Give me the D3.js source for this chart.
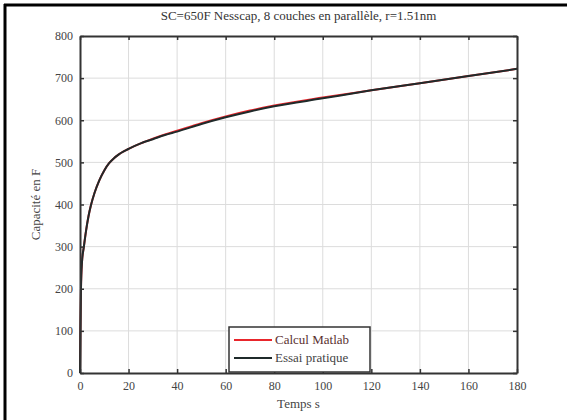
<!DOCTYPE html>
<html><head><meta charset="utf-8">
<script src="https://cdn.jsdelivr.net/npm/d3@7"></script>
<style>body{margin:0;background:#fff}svg{display:block}</style>
</head><body><svg id="c" width="567" height="420"></svg>
<script>
const title = "SC=650F Nesscap, 8 couches en parallèle, r=1.51nm";
const xLabel = "Temps s";
const yLabel = "Capacité en F";
const xTicks = [0,20,40,60,80,100,120,140,160,180];
const yTicks = [0,100,200,300,400,500,600,700,800];
const seriesNames = ["Calcul Matlab","Essai pratique"];
const timeS  = [0,0.15,0.4,0.8,1.6,2.5,3.5,4.5,6,8,10,12,14,16,18,20,25,30,35,40,50,60,70,80,100,120,140,160,180];
const calcul = [0,100,200,262,300,338,372,398,428,458,481,498,510,519,526,532,545,556,566,575,593,609,623,635,654,671,688,705,722];
const essai  = [0,100,200,262,300,338,372,398,428,458,481,498,510,519,526,532,545,555,565,573,591,607,621,633,652,671,688,705,722];

const FONT = "'Liberation Serif','DejaVu Serif','Times New Roman',serif";
const svg = d3.select("#c").attr("font-family",FONT);
const L=80,R=517,T=36,B=373;
const x = d3.scaleLinear().domain([0,180]).range([L,R]);
const y = d3.scaleLinear().domain([0,800]).range([B,T]);

// outer frame (left & top)
svg.append("line").attr("x1",5).attr("x2",5).attr("y1",4).attr("y2",420).attr("stroke","#000").attr("stroke-width",3);
svg.append("line").attr("x1",4).attr("x2",567).attr("y1",5).attr("y2",5).attr("stroke","#000").attr("stroke-width",3);

// grid
svg.append("g").selectAll("line").data(xTicks.slice(1,-1)).join("line")
  .attr("x1",d=>x(d)).attr("x2",d=>x(d)).attr("y1",T).attr("y2",B).attr("stroke","#dcdcdc").attr("stroke-width",1);
svg.append("g").selectAll("line").data(yTicks.slice(1,-1)).join("line")
  .attr("y1",d=>y(d)).attr("y2",d=>y(d)).attr("x1",L).attr("x2",R).attr("stroke","#dcdcdc").attr("stroke-width",1);

// lines
const line = d3.line().x((d,i)=>x(timeS[i])).y(d=>y(d)).curve(d3.curveMonotoneX);
svg.append("path").attr("d",line(calcul)).attr("fill","none").attr("stroke","#e8262c").attr("stroke-width",2);
svg.append("path").attr("d",line(essai)).attr("fill","none").attr("stroke","#1f2a2a").attr("stroke-width",2);

// axes
const xb = d3.axisBottom(x).tickValues(xTicks).tickSizeInner(-4).tickSizeOuter(0).tickPadding(8);
const yl = d3.axisLeft(y).tickValues(yTicks).tickSizeInner(-4).tickSizeOuter(0).tickPadding(7);
const xt = d3.axisTop(x).tickValues(xTicks).tickSizeInner(-4).tickSizeOuter(0).tickFormat("");
const yr = d3.axisRight(y).tickValues(yTicks).tickSizeInner(-4).tickSizeOuter(0).tickFormat("");
function styleAx(g){g.attr("font-family",FONT);
  g.select(".domain").attr("stroke","#333").attr("stroke-width",2);
  g.selectAll(".tick line").attr("stroke","#333").attr("stroke-width",1.5);
  g.selectAll("text").attr("fill","#444").attr("font-size",12).attr("font-family",FONT);}
svg.append("g").attr("transform",`translate(0,${B})`).call(xb).call(styleAx);
svg.append("g").attr("transform",`translate(${L},0)`).call(yl).call(styleAx);
svg.append("g").attr("transform",`translate(0,${T})`).call(xt).call(styleAx);
svg.append("g").attr("transform",`translate(${R},0)`).call(yr).call(styleAx);

// labels
svg.append("text").attr("x",(L+R)/2).attr("y",20).attr("text-anchor","middle").attr("font-size",13).attr("font-family",FONT).attr("fill","#333").text(title);
svg.append("text").attr("x",(L+R)/2).attr("y",408).attr("text-anchor","middle").attr("font-size",13).attr("font-family",FONT).attr("fill","#444").text(xLabel);
svg.append("text").attr("transform",`translate(40,${(T+B)/2}) rotate(-90)`).attr("text-anchor","middle").attr("font-size",13).attr("font-family",FONT).attr("fill","#444").text(yLabel);

// legend
const lg = svg.append("g");
lg.append("rect").attr("x",229).attr("y",327).attr("width",141).attr("height",45).attr("fill","#fff").attr("stroke","#333").attr("stroke-width",1.5);
const colors = ["#e8262c","#1f2a2a"];
seriesNames.forEach((n,i)=>{
  const yy = 340 + i*18;
  lg.append("line").attr("x1",234).attr("x2",272).attr("y1",yy).attr("y2",yy).attr("stroke",colors[i]).attr("stroke-width",2);
  lg.append("text").attr("x",275).attr("y",yy+4).attr("font-size",13).attr("font-family",FONT).attr("fill",i==0?"#5a3030":"#444").text(n);
});
</script></body></html>
